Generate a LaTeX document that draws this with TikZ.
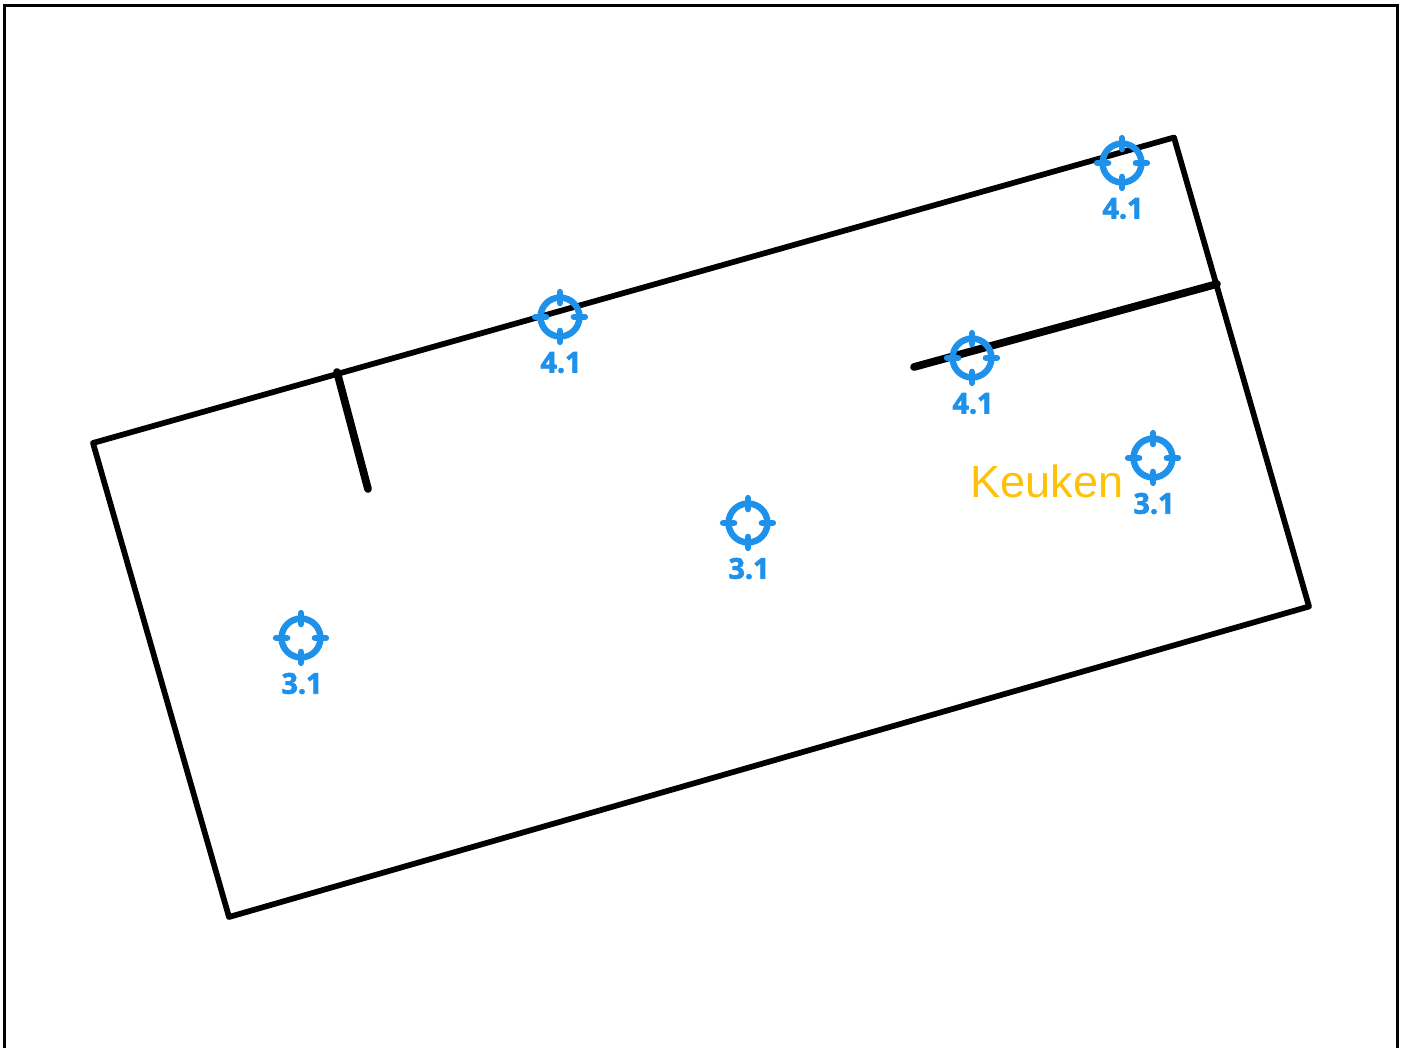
\documentclass[tikz,border=0pt]{standalone}
\usepackage{fontspec}
\setmainfont{Liberation Sans}
\newfontfamily\tagfont[BoldFeatures={FakeBold=2.5}]{Open Sans}
\definecolor{tagblue}{RGB}{30,145,235}
\definecolor{roomamber}{RGB}{255,193,7}
\tikzset{
  px/.style={x=0.75pt,y=-0.75pt},
  frameline/.style={draw=black,line width=2.4pt,line cap=butt},
  wallline/.style={draw=black,line width=4.3pt,line join=round,line cap=round},
  partition/.style={draw=black,line width=5.8pt,line cap=round},
  ring/.style={circle,draw=tagblue,line width=4.8pt,minimum size=29.2pt,inner sep=0pt,outer sep=0pt},
  tick/.style={draw=tagblue,line width=5pt,line cap=round},
  taglabel/.style={text=tagblue,font=\tagfont\bfseries\fontsize{21.5}{21.5}\selectfont,inner sep=0pt},
  roomlabel/.style={text=roomamber,font=\fontsize{33.8}{33.8}\selectfont,inner sep=0pt}
}
\newcommand{\targetmark}[4]{%
  \node[ring] (#1) at (#2,#3) {};
  \node[taglabel] (#1l) at (#2+1,#3+45.5) {#4};
  \foreach \ang in {0,90,180,270}{
    \draw[tick] ($(#1.center)+(\ang:10.5pt)$) -- ($(#1.center)+(\ang:18.6pt)$);
  }
}
\usetikzlibrary{calc}
\begin{document}
\begin{tikzpicture}[px]
\useasboundingbox (0,0) rectangle (1403,1048);
% frame
\coordinate (fa) at (4.5,1048);
\coordinate (fb) at (4.5,5.5);
\coordinate (fc) at (1397.5,5.5);
\coordinate (fd) at (1397.5,1048);
\draw[frameline] (fa) -- (fb) -- (fc) -- (fd);
% outline
\coordinate (c1) at (93,443);
\coordinate (c2) at (1174,137.5);
\coordinate (c3) at (1309,606.5);
\coordinate (c4) at (229,917);
\draw[wallline] (c1) -- (c2) -- (c3) -- (c4) -- cycle;
% partitions
\coordinate (p1a) at (337,372);
\coordinate (p1b) at (368,489);
\draw[partition] (p1a) -- (p1b);
\coordinate (p2a) at (1217,284);
\coordinate (p2b) at (914,367);
\draw[partition] (p2a) -- (p2b);
% targets
\targetmark{ta}{1122}{163}{4.1}
\targetmark{tb}{560}{317}{4.1}
\targetmark{tc}{972}{358}{4.1}
\targetmark{td}{1153}{458}{3.1}
\targetmark{te}{748}{523}{3.1}
\targetmark{tf}{301}{638}{3.1}
\node[roomlabel,anchor=base west] (keuken) at (970.5,498) {Keuken};
\end{tikzpicture}
\end{document}
